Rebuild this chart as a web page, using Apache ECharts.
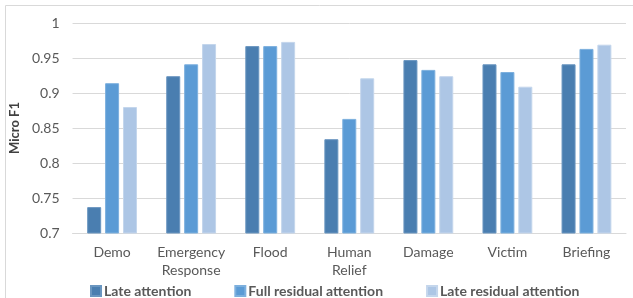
<!DOCTYPE html>
<html>
<head>
<meta charset="utf-8">
<script src="https://cdn.jsdelivr.net/npm/echarts@6/dist/echarts.min.js"></script>
<style>
  html, body { margin: 0; padding: 0; background: #fff; }
  #chart { width: 633px; height: 298px; }
</style>
</head>
<body>
<div id="chart"></div>
<script>
// categories and values
var categories = ['Demo', 'Emergency\nResponse', 'Flood', 'Human\nRelief', 'Damage', 'Victim', 'Briefing']
var lateAttention = [0.737, 0.924, 0.967, 0.834, 0.947, 0.941, 0.941]
var fullResidual = [0.914, 0.941, 0.967, 0.863, 0.933, 0.930, 0.963]
var lateResidual = [0.880, 0.970, 0.973, 0.921, 0.924, 0.909, 0.969]
var seriesNames = ['Late attention', 'Full residual attention', 'Late residual attention']
var colors = ['#4a7eb0', '#5b9bd5', '#adc6e5']
var edges = ['#6a96c0', '#7db0de', '#c4d6ec']

var font = 'Lato'
var chart = echarts.init(document.getElementById('chart'))

var data = [lateAttention, fullResidual, lateResidual]
var series = []
for (var i = 0; i < data.length; i++) {
  series.push({
    name: seriesNames[i],
    type: 'bar',
    data: data[i],
    barWidth: 14,
    barGap: '28%',
    itemStyle: { color: colors[i], borderColor: edges[i], borderWidth: 1 }
  })
}

chart.setOption({
  animation: false,
  color: colors,
  textStyle: { fontFamily: font },
  graphic: [{
    type: 'rect',
    shape: { x: 5.5, y: 5.5, width: 700, height: 400 },
    style: { fill: 'none', stroke: '#d9d9d9', lineWidth: 1 },
    silent: true
  }],
  grid: { left: 71, right: 7, top: 23, bottom: 65 },
  legend: {
    data: seriesNames,
    left: 85,
    top: 279,
    icon: 'rect',
    itemWidth: 10,
    itemHeight: 10,
    itemGap: 43,
    textStyle: { fontFamily: font, fontWeight: 'bold', fontSize: 14, color: '#595959', padding: [0, 0, 0, -2] }
  },
  xAxis: {
    type: 'category',
    data: categories,
    axisLine: { lineStyle: { color: '#d9d9d9' } },
    axisTick: { show: false },
    axisLabel: { interval: 0, fontFamily: font, fontSize: 14, color: '#595959', margin: 10, lineHeight: 18 }
  },
  yAxis: {
    type: 'value',
    min: 0.7,
    max: 1,
    interval: 0.05,
    name: 'Micro F1',
    nameLocation: 'middle',
    nameGap: 49,
    nameRotate: 90,
    nameTextStyle: { fontFamily: font, fontWeight: 'bold', fontSize: 13, color: '#404040' },
    axisLine: { show: false },
    axisTick: { show: false },
    splitLine: { lineStyle: { color: '#d9d9d9' } },
    axisLabel: {
      fontFamily: font, fontSize: 14, color: '#595959', margin: 13,
      formatter: function(v) { return String(+v.toFixed(2)) }
    }
  },
  series: series
})
</script>
</body>
</html>
